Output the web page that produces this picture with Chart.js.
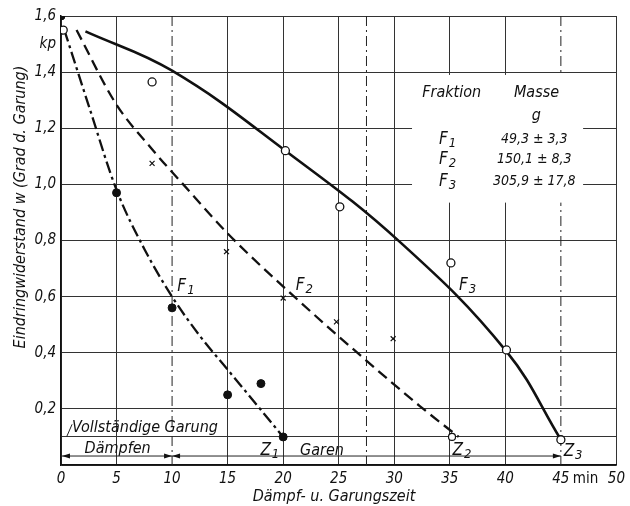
<!DOCTYPE html>
<html>
<head>
<meta charset="utf-8">
<script src="https://cdn.jsdelivr.net/npm/chart.js@4.4.1/dist/chart.umd.min.js"></script>
<style>
	html, body { margin: 0; padding: 0; background: #fff; }
</style>
</head>
<body>
<canvas id="grafico_garung" width="630" height="506"></canvas>
<script>
//Schrift (Normschrift, kursiv)
const SCHRIFT = "'Liberation Sans Narrow', 'DejaVu Sans Condensed', 'Liberation Sans', sans-serif"

//Messpunkte F1 (gefüllte Kreise)
const zeitF1 = [0, 5, 10, 15, 18, 20]
const wertF1 = [1.6, 0.97, 0.56, 0.25, 0.29, 0.1]
//Messpunkte F2 (Kreuze, letzter = Z2)
const zeitF2 = [8.2, 14.9, 20, 24.8, 29.9, 35.2]
const wertF2 = [1.075, 0.76, 0.595, 0.51, 0.45, 0.1]
//Messpunkte F3 (offene Kreise)
const zeitF3 = [0.2, 8.2, 20.2, 25.1, 35.1, 40.1, 45]
const wertF3 = [1.55, 1.365, 1.12, 0.92, 0.72, 0.41, 0.09]

//Ausgleichskurven
const kurveZeitF1 = [0.3, 2.5, 5, 7.5, 10, 12.5, 15, 17.5, 20]
const kurveWertF1 = [1.55, 1.28, 0.98, 0.77, 0.6, 0.46, 0.34, 0.22, 0.1]
const kurveZeitF2 = [1.4, 4.9, 8.2, 11, 15, 21, 27.4, 32.3, 35.8]
const kurveWertF2 = [1.55, 1.29, 1.125, 1.0, 0.825, 0.6, 0.375, 0.21, 0.1]
const kurveZeitF3 = [2.2, 10, 20.2, 30.5, 40.1, 45]
const kurveWertF3 = [1.545, 1.405, 1.12, 0.795, 0.405, 0.09]

//Achsenteilung
const xTicks = [0, 5, 10, 15, 20, 25, 27.5, 30, 35, 40, 45, 50]
const yTicks = [0, 0.1, 0.2, 0.4, 0.6, 0.8, 1.0, 1.2, 1.4, 1.5, 1.6]
const strichpunktX = [10, 27.5, 45]

//Tabelle
const fraktionen = ['1', '2', '3']
const massen = ['49,3 ± 3,3', '150,1 ± 8,3', '305,9 ± 17,8']

const punkte = (xs, ys) => xs.map((x, i) => ({ x: x, y: ys[i] }))
const gleich = (a, b) => Math.abs(a - b) < 1e-6

//Text mit Index (F1, Z1 ...)
const textIndex = (ctx, basis, index, x, y, groesse) => {
	ctx.font = `italic ${groesse}px ${SCHRIFT}`
	const wb = ctx.measureText(basis).width
	ctx.font = `italic ${Math.round(groesse * 0.75)}px ${SCHRIFT}`
	const wi = ctx.measureText(index).width
	const x0 = x - (wb + wi + 1) / 2
	ctx.textAlign = 'left'
	ctx.textBaseline = 'middle'
	ctx.font = `italic ${groesse}px ${SCHRIFT}`
	ctx.fillText(basis, x0, y)
	ctx.font = `italic ${Math.round(groesse * 0.75)}px ${SCHRIFT}`
	ctx.fillText(index, x0 + wb + 1, y + groesse * 0.24)
}

const pfeil = (ctx, x, y, richtung) => {
	ctx.beginPath()
	ctx.moveTo(x, y)
	ctx.lineTo(x - 8 * richtung, y - 2.5)
	ctx.lineTo(x - 8 * richtung, y + 2.5)
	ctx.closePath()
	ctx.fill()
}

//Beschriftung, Strichpunktlinien, Tabelle
const zeichnung = {
	id: 'zeichnung',
	beforeDatasetsDraw(chart) {
		const ctx = chart.ctx
		const sx = chart.scales.x
		const sy = chart.scales.y
		const X = v => sx.getPixelForValue(v)
		const Y = v => sy.getPixelForValue(v)
		ctx.save()
		ctx.fillStyle = '#111'
		ctx.strokeStyle = '#222'

		//Strichpunktlinien
		ctx.lineWidth = 1
		ctx.setLineDash([10, 4, 2, 4])
		strichpunktX.forEach(v => {
			ctx.beginPath()
			ctx.moveTo(X(v), Y(1.6))
			ctx.lineTo(X(v), Y(0))
			ctx.stroke()
		})
		ctx.setLineDash([])

		//Tabelle (weißer Grund)
		ctx.fillStyle = '#fff'
		ctx.fillRect(X(31.6), Y(1.39), X(47) - X(31.6), Y(0.935) - Y(1.39))
		ctx.fillStyle = '#111'
		ctx.textAlign = 'center'
		ctx.textBaseline = 'middle'
		ctx.font = `italic 16px ${SCHRIFT}`
		ctx.fillText('Fraktion', X(35.17), Y(1.326))
		ctx.fillText('Masse', X(42.8), Y(1.326))
		ctx.fillText('g', X(42.8), Y(1.245))
		const zeilen = [1.16, 1.09, 1.01]
		fraktionen.forEach((f, i) => {
			textIndex(ctx, 'F', f, X(34.8), Y(zeilen[i]), 17)
			ctx.font = `italic 14px ${SCHRIFT}`
			ctx.textAlign = 'center'
			ctx.fillText(massen[i], X(42.6), Y(zeilen[i]))
		})

		//Kurvenbezeichnung
		textIndex(ctx, 'F', '1', X(11.25), Y(0.635), 17)
		textIndex(ctx, 'F', '2', X(21.9), Y(0.64), 17)
		textIndex(ctx, 'F', '3', X(36.6), Y(0.64), 17)
		textIndex(ctx, 'Z', '1', X(18.8), Y(0.05), 17)
		textIndex(ctx, 'Z', '2', X(36.1), Y(0.05), 17)
		textIndex(ctx, 'Z', '3', X(46.1), Y(0.047), 17)

		//Untere Leiste
		ctx.font = `italic 16px ${SCHRIFT}`
		ctx.textAlign = 'left'
		ctx.fillText('Vollständige Garung', X(1.0), Y(0.133))
		ctx.textAlign = 'center'
		ctx.fillText('Dämpfen', X(5.1), Y(0.058))
		ctx.fillText('Garen', X(23.5), Y(0.052))
		ctx.lineWidth = 1
		ctx.beginPath()
		ctx.moveTo(X(0.5), Y(0.1))
		ctx.lineTo(X(1.0), Y(0.145))
		ctx.stroke()
		ctx.beginPath()
		ctx.moveTo(X(0), Y(0.032))
		ctx.lineTo(X(45), Y(0.032))
		ctx.stroke()
		pfeil(ctx, X(0) + 1, Y(0.032), -1)
		pfeil(ctx, X(10), Y(0.032), 1)
		pfeil(ctx, X(10), Y(0.032), -1)
		pfeil(ctx, X(45), Y(0.032), 1)

		//Achsentitel
		ctx.font = `italic 16px ${SCHRIFT}`
		ctx.textAlign = 'center'
		ctx.fillText('Dämpf- u. Garungszeit', 334, 497)
		ctx.font = `15px ${SCHRIFT}`
		ctx.textAlign = 'left'
		ctx.fillText('min', X(45) + 12, sx.bottom - 27)
		ctx.save()
		ctx.translate(21, 207)
		ctx.rotate(-Math.PI / 2)
		ctx.font = `italic 16px ${SCHRIFT}`
		ctx.textAlign = 'center'
		ctx.fillText('Eindringwiderstand w (Grad d. Garung)', 0, 0)
		ctx.restore()

		ctx.restore()
	}
}

const kurve = (xs, ys, dash, breite, modus) => ({
	data: punkte(xs, ys),
	showLine: true,
	borderColor: '#111',
	borderWidth: breite,
	borderDash: dash,
	pointRadius: 0,
	cubicInterpolationMode: modus,
	tension: 0.4,
	order: 2
})

const graficoCanvas = document.getElementById('grafico_garung')
const chartGarung = new Chart(graficoCanvas, {
	type: 'scatter',
	data: {
		datasets: [
			kurve(kurveZeitF3, kurveWertF3, [], 2.6, 'default'),
			kurve(kurveZeitF2, kurveWertF2, [11, 6], 2.3, 'monotone'),
			kurve(kurveZeitF1, kurveWertF1, [12, 4, 3, 4], 2.3, 'monotone'),
			{
				data: punkte(zeitF1, wertF1),
				pointStyle: 'circle',
				pointRadius: 4,
				backgroundColor: '#111',
				borderColor: '#111',
				order: 1
			},
			{
				data: punkte(zeitF2, wertF2),
				pointStyle: zeitF2.map((v, i) => i === zeitF2.length - 1 ? 'circle' : 'crossRot'),
				pointRadius: 3.5,
				borderWidth: 1.2,
				backgroundColor: '#fff',
				borderColor: '#111',
				order: 1
			},
			{
				data: punkte(zeitF3, wertF3),
				pointStyle: 'circle',
				pointRadius: 4,
				borderWidth: 1.3,
				backgroundColor: '#fff',
				borderColor: '#111',
				order: 1
			}
		]
	},
	options: {
		responsive: false,
		animation: false,
		devicePixelRatio: 1,
		layout: { padding: { top: 16, right: 13, left: 0, bottom: 0 } },
		plugins: {
			legend: { display: false },
			tooltip: { enabled: false }
		},
		scales: {
			x: {
				type: 'linear',
				min: 0,
				max: 50,
				afterBuildTicks: scale => { scale.ticks = xTicks.map(v => ({ value: v })) },
				afterFit: scale => { scale.height = 41 },
				ticks: {
					color: '#111',
					padding: 5,
					font: { family: SCHRIFT, size: 15, style: 'italic' },
					callback: v => gleich(v, 27.5) ? '' : String(v)
				},
				grid: {
					drawTicks: false,
					lineWidth: 1,
					color: c => strichpunktX.some(s => gleich(s, c.tick.value)) ? 'rgba(0,0,0,0)' : '#333'
				},
				border: { color: '#111', width: 1.5 }
			},
			y: {
				type: 'linear',
				min: 0,
				max: 1.6,
				afterBuildTicks: scale => { scale.ticks = yTicks.map(v => ({ value: v })) },
				afterFit: scale => { scale.width = 61 },
				ticks: {
					color: '#111',
					padding: 5,
					font: { family: SCHRIFT, size: 15, style: 'italic' },
					callback: v => {
						if (gleich(v, 0) || gleich(v, 0.1)) return ''
						if (gleich(v, 1.5)) return 'kp'
						return v.toFixed(1).replace('.', ',')
					}
				},
				grid: {
					drawTicks: false,
					lineWidth: 1,
					color: c => gleich(c.tick.value, 1.5) ? 'rgba(0,0,0,0)' : '#333'
				},
				border: { color: '#111', width: 1.5 }
			}
		}
	},
	plugins: [zeichnung]
})
</script>
</body>
</html>
